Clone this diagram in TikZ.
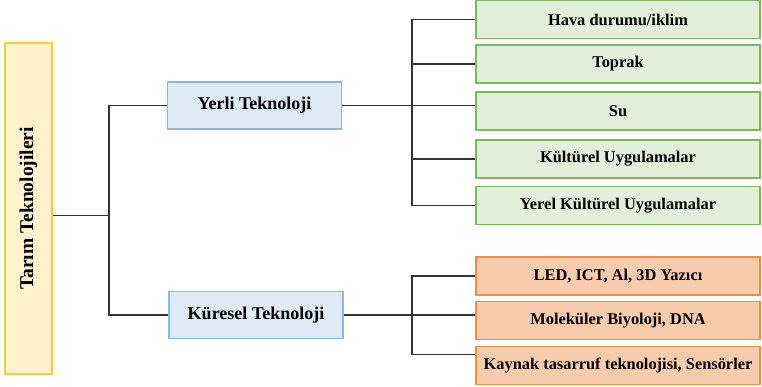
\documentclass[tikz,border=0pt]{standalone}
\usepackage{fontspec}
\setmainfont{Liberation Serif}
\usetikzlibrary{positioning}
\definecolor{rtfill}{HTML}{FFF2CC}
\definecolor{rtdraw}{HTML}{FFC93C}
\definecolor{midfill}{HTML}{DEEAF6}
\definecolor{middraw}{HTML}{8AB8E4}
\definecolor{gfill}{HTML}{E2EFDA}
\definecolor{gdraw}{HTML}{7DB85A}
\definecolor{ofill}{HTML}{F8CBAD}
\definecolor{odraw}{HTML}{EE8C4A}
\tikzset{
  rt/.style={rectangle,draw=rtdraw,fill=rtfill,line width=1.2pt,rotate=90,
    minimum width=331pt,minimum height=47pt,inner sep=0pt,
    font=\fontsize{19.5}{23}\selectfont\bfseries},
  mid/.style={rectangle,draw=middraw,fill=midfill,line width=1.2pt,
    minimum width=174pt,minimum height=47pt,inner sep=0pt,
    font=\fontsize{18}{21}\selectfont\bfseries},
  lfg/.style={rectangle,draw=gdraw,fill=gfill,line width=1.3pt,
    minimum width=284pt,minimum height=38pt,inner sep=0pt,
    font=\fontsize{16.4}{19}\selectfont\bfseries},
  lfo/.style={lfg,draw=odraw,fill=ofill},
  lnk/.style={draw=black!80,line width=1.1pt},
}
\begin{document}
\begin{tikzpicture}[x=1pt,y=-1pt]
\useasboundingbox (0,0) rectangle (762,387);
% root, standing on its side
\node[rt] (tt) at (28.5,208.5) {Tarım Teknolojileri};
% the two kinds of technology
\node[mid] (yerli) at (254.5,105.5) {Yerli Teknoloji};
\node[mid] (kuresel) at (256,315) {Küresel Teknoloji};
% local ones
\node[lfg] (hava) at (618,19.5) {Hava durumu/iklim};
\node[lfg] (toprak) at (618,64) {Toprak};
\node[lfg] (su) at (618,111) {Su};
\node[lfg] (kultur) at (618,159) {Kültürel Uygulamalar};
\node[lfg] (yerel) at (618,205.5) {Yerel Kültürel Uygulamalar};
% global ones
\node[lfo] (led) at (618,276) {LED, ICT, Al, 3D Yazıcı};
\node[lfo] (mol) at (618,320.5) {Moleküler Biyoloji, DNA};
\node[lfo] (kaynak) at (618,365.5) {Kaynak tasarruf teknolojisi, Sensörler};
% bracket lines
\coordinate (b1) at (109,0);
\coordinate (b2) at (412,0);
\draw[lnk] ([yshift=-7pt]tt.south) -- ([yshift=-7pt]tt.south -| b1);
\draw[lnk] (yerli.west) -| (b1 |- kuresel.west) -- (kuresel.west);
\draw[lnk] (yerli.east) -- (yerli.east -| su.west);
\draw[lnk] (hava.west) -| (b2 |- yerel.west) -- (yerel.west);
\draw[lnk] (toprak.west) -- (toprak.west -| b2);
\draw[lnk] (kultur.west) -- (kultur.west -| b2);
\draw[lnk] (kuresel.east) -- (kuresel.east -| mol.west);
\draw[lnk] (led.west) -| ([yshift=11pt]kaynak.west -| b2) -- ([yshift=11pt]kaynak.west);
\end{tikzpicture}
\end{document}
